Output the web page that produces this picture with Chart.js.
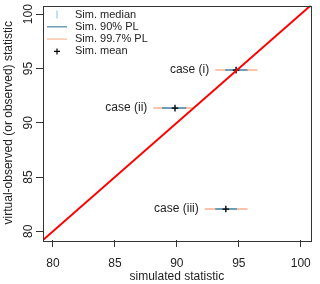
<!DOCTYPE html>
<html>
<head>
<meta charset="utf-8">
<script src="https://cdn.jsdelivr.net/npm/chart.js@4"></script>
<style>
  html, body { margin: 0; padding: 0; background: #fff; }
  #wrap { width: 320px; height: 284px; }
</style>
</head>
<body>
<div id="wrap"><canvas id="qqChart"></canvas></div>
<script>
// values
const caseLabels = ['case (i)', 'case (ii)', 'case (iii)'];
const observed = [94.85, 91.35, 82.05];
const simMean = [94.78, 89.85, 93.95];
const simMedian = [94.78, 89.85, 93.95];
const pl90Low = [93.9, 88.8, 93.1];
const pl90High = [95.7, 90.75, 94.85];
const pl997Low = [93.1, 88.1, 92.25];
const pl997High = [96.5, 91.3, 95.7];
const tickValues = [80, 85, 90, 95, 100];
const axisRange = [79.2, 100.8];

const legendNames = ['Sim. median', 'Sim. 90% PL', 'Sim. 99.7% PL', 'Sim. mean'];

const colRed = '#ff0000';
const col90 = '#6e9db5';
const col997 = '#fbc3a9';
const colMedian = '#a9d9f2';
const font = "'Liberation Sans', Arial, sans-serif";

function segments(lo, hi) {
    const out = [];
    for (let i = 0; i < lo.length; i++) {
        out.push({ x: lo[i], y: observed[i] });
        out.push({ x: hi[i], y: observed[i] });
        out.push({ x: (lo[i] + hi[i]) / 2, y: null });
    }
    return out;
}

const boxPlugin = {
    id: 'rbox',
    afterDatasetsDraw(chart) {
        const { ctx, chartArea: a, scales } = chart;
        ctx.save();
        ctx.strokeStyle = '#333';
        ctx.lineWidth = 1;
        ctx.strokeRect(Math.round(a.left) + 0.5, Math.round(a.top) + 0.5,
            Math.round(a.right - a.left), Math.round(a.bottom - a.top));

        // case labels left of the lower 99.7% bound
        ctx.fillStyle = '#222';
        ctx.font = '12px ' + font;
        ctx.textAlign = 'right';
        ctx.textBaseline = 'middle';
        caseLabels.forEach((lab, i) => {
            const px = scales.x.getPixelForValue(pl997Low[i]);
            const py = scales.y.getPixelForValue(observed[i]);
            ctx.fillText(lab, px - 6, py);
        });

        // legend in the top-left corner, no frame
        const lx = a.left + 14, tx = a.left + 32;
        let ly = a.top + 9;
        const step = 12.3;
        ctx.textAlign = 'left';
        ctx.font = '11px ' + font;
        ctx.lineWidth = 1.5;
        ctx.strokeStyle = colMedian;
        ctx.beginPath(); ctx.moveTo(lx, ly - 4); ctx.lineTo(lx, ly + 4); ctx.stroke();
        ctx.fillText(legendNames[0], tx, ly);
        ly += step;
        ctx.strokeStyle = col90;
        ctx.beginPath(); ctx.moveTo(lx - 10, ly); ctx.lineTo(lx + 10, ly); ctx.stroke();
        ctx.fillText(legendNames[1], tx, ly);
        ly += step;
        ctx.strokeStyle = col997;
        ctx.beginPath(); ctx.moveTo(lx - 10, ly); ctx.lineTo(lx + 10, ly); ctx.stroke();
        ctx.fillText(legendNames[2], tx, ly);
        ly += step;
        ctx.strokeStyle = '#000';
        ctx.lineWidth = 1.2;
        ctx.beginPath();
        ctx.moveTo(lx - 3, ly); ctx.lineTo(lx + 3, ly);
        ctx.moveTo(lx, ly - 3); ctx.lineTo(lx, ly + 3);
        ctx.stroke();
        ctx.fillText(legendNames[3], tx, ly);
        ctx.restore();
    }
};

new Chart(document.getElementById('qqChart'), {
    type: 'scatter',
    data: {
        datasets: [
            {
                type: 'line',
                label: '1:1',
                data: [{ x: axisRange[0], y: axisRange[0] }, { x: axisRange[1], y: axisRange[1] }],
                borderColor: colRed,
                borderWidth: 2,
                pointRadius: 0,
                order: -1
            },
            {
                type: 'line',
                label: legendNames[2],
                data: segments(pl997Low, pl997High),
                borderColor: col997,
                borderWidth: 2,
                pointRadius: 0,
                spanGaps: false,
                order: 3
            },
            {
                type: 'line',
                label: legendNames[1],
                data: segments(pl90Low, pl90High),
                borderColor: col90,
                borderWidth: 2,
                pointRadius: 0,
                spanGaps: false,
                order: 2
            },
            {
                label: legendNames[0],
                data: simMedian.map((v, i) => ({ x: v, y: observed[i] })),
                pointStyle: 'line',
                rotation: 90,
                radius: 3,
                borderColor: colMedian,
                borderWidth: 1.5,
                order: 1
            },
            {
                label: legendNames[3],
                data: simMean.map((v, i) => ({ x: v, y: observed[i] })),
                pointStyle: 'cross',
                radius: 3.3,
                borderColor: '#000',
                borderWidth: 1.3,
                order: 0
            }
        ]
    },
    options: {
        responsive: true,
        maintainAspectRatio: false,
        animation: false,
        layout: { padding: { top: 3, right: 4, left: 0, bottom: 0 } },
        plugins: {
            legend: { display: false },
            tooltip: { enabled: false }
        },
        scales: {
            x: {
                type: 'linear',
                min: axisRange[0],
                max: axisRange[1],
                afterFit: (s) => { s.height = 44; },
                afterBuildTicks: (s) => { s.ticks = tickValues.map(v => ({ value: v })); },
                border: { display: false },
                grid: { drawOnChartArea: false, drawTicks: true, tickLength: 7, color: '#333' },
                ticks: { color: '#222', font: { family: font, size: 12 }, padding: 9, maxRotation: 0 },
                title: { display: true, text: 'simulated statistic', color: '#222',
                    font: { family: font, size: 12 }, padding: { top: 0, bottom: 0 } }
            },
            y: {
                type: 'linear',
                min: axisRange[0],
                max: axisRange[1],
                afterFit: (s) => { s.width = 43; },
                afterBuildTicks: (s) => { s.ticks = tickValues.map(v => ({ value: v })); },
                border: { display: false },
                grid: { drawOnChartArea: false, drawTicks: true, tickLength: 7, color: '#333' },
                ticks: { color: '#222', font: { family: font, size: 12 }, padding: -3,
                    minRotation: 90, maxRotation: 90, crossAlign: 'center' },
                title: { display: true, text: 'virtual-observed (or observed) statistic', color: '#222',
                    font: { family: font, size: 12 }, padding: { top: 1, bottom: 0 } }
            }
        }
    },
    plugins: [boxPlugin]
});
</script>
</body>
</html>
